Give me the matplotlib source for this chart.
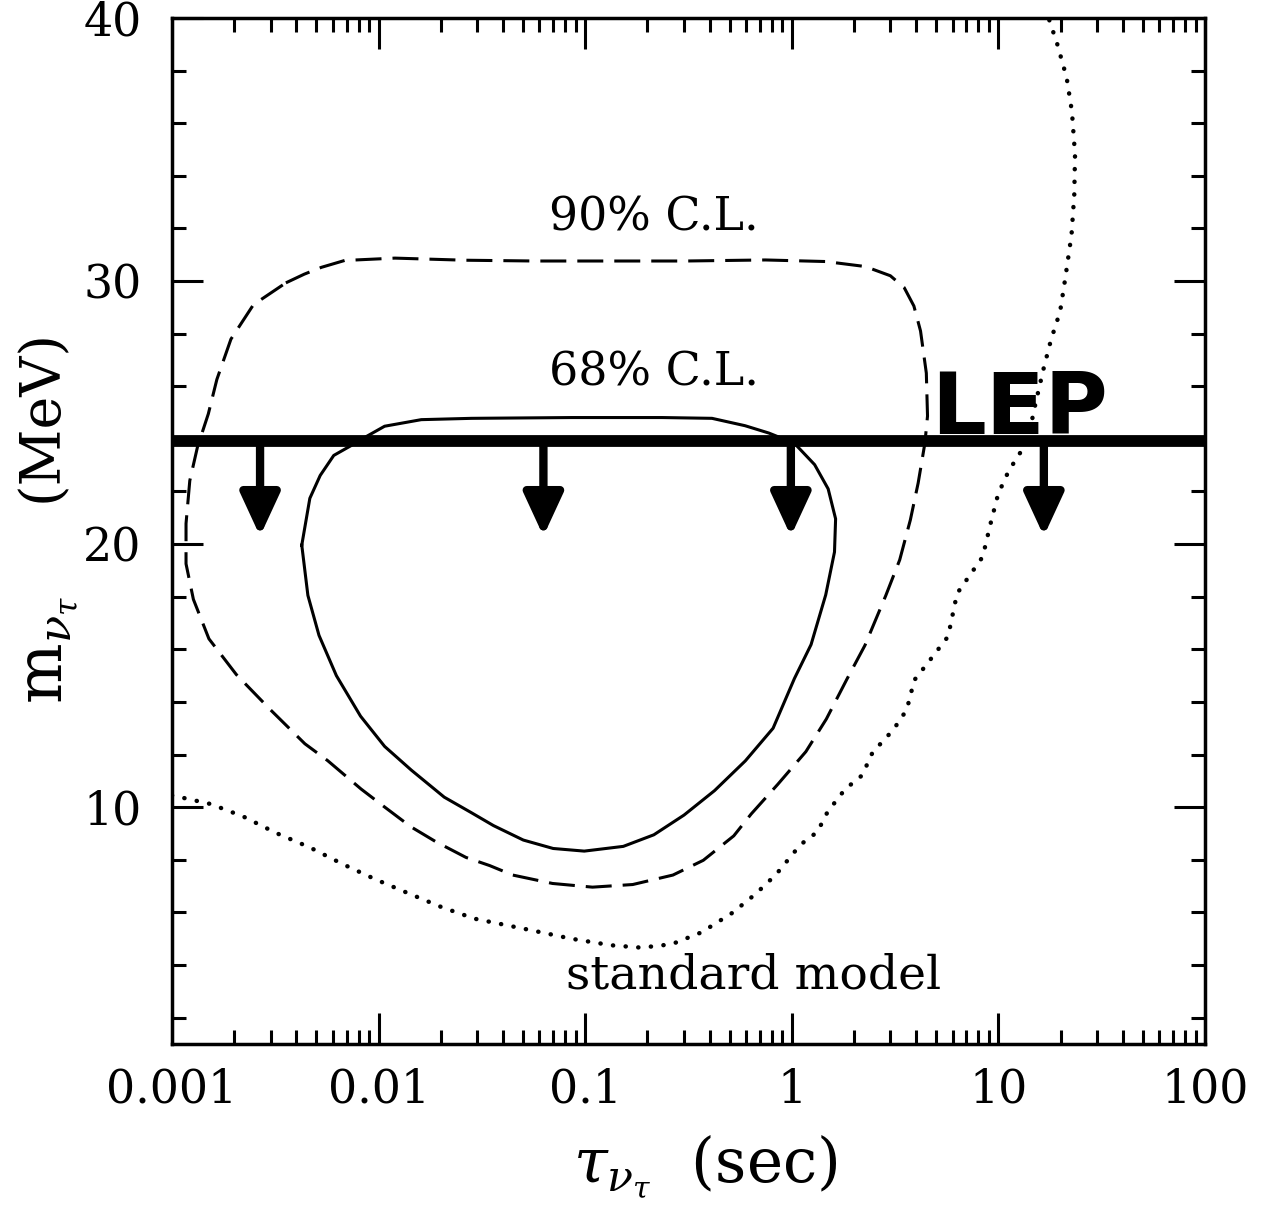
import matplotlib.pyplot as plt
from matplotlib.ticker import FixedLocator, NullFormatter

plt.rcParams['font.family'] = 'DejaVu Serif'
plt.rcParams['mathtext.fontset'] = 'dejavuserif'

# 68% C.L. contour (closed), tau in sec, mass in MeV
tau_68 = [0.00425, 0.00465, 0.00522, 0.00607, 0.00735, 0.00851, 0.0107, 0.0161,
          0.0282, 0.0862, 0.236, 0.411, 0.594, 0.775, 1.03, 1.29, 1.50, 1.63,
          1.61, 1.46, 1.24, 1.03, 0.812, 0.596, 0.423, 0.301, 0.215, 0.153,
          0.0990, 0.0700, 0.0502, 0.0360, 0.0280, 0.0208, 0.0144, 0.0107,
          0.00818, 0.00625, 0.00515, 0.00455]
m_68 = [19.96, 21.74, 22.61, 23.37, 23.74, 24.04, 24.48, 24.73,
        24.78, 24.81, 24.81, 24.78, 24.50, 24.22, 23.83, 23.02, 22.10, 20.96,
        19.70, 18.07, 16.18, 14.89, 13.00, 11.76, 10.63, 9.70, 8.95, 8.51,
        8.33, 8.43, 8.75, 9.30, 9.80, 10.38, 11.41, 12.31,
        13.46, 15.00, 16.53, 18.05]

# 90% C.L. contour (closed)
tau_90 = [0.00356, 0.00437, 0.00529, 0.00685, 0.0120, 0.0262, 0.0571, 0.125,
          0.305, 0.745, 1.46, 2.27, 3.00, 3.50, 3.90, 4.20, 4.48, 4.54, 4.41,
          4.09, 3.75, 3.33, 2.85, 2.26, 1.85, 1.47, 1.17, 0.856, 0.636, 0.524,
          0.373, 0.266, 0.170, 0.1085, 0.0695, 0.0446, 0.0345, 0.0265, 0.0190,
          0.0143, 0.0106, 0.00823, 0.00567, 0.00440, 0.00300, 0.00205, 0.00151,
          0.00127, 0.00117, 0.00117, 0.00122, 0.00133, 0.00150, 0.00165,
          0.00193, 0.00248]
m_90 = [29.93, 30.26, 30.52, 30.78, 30.87, 30.79, 30.76, 30.76,
        30.76, 30.80, 30.74, 30.55, 30.20, 29.75, 29.05, 28.10, 26.50, 24.87,
        23.84, 22.32, 20.92, 19.40, 18.04, 16.15, 14.87, 13.35, 12.11, 10.87,
        9.74, 8.91, 7.98, 7.42, 7.06, 6.96, 7.10, 7.42, 7.78, 8.09, 8.68,
        9.26, 10.03, 10.69, 11.77, 12.41, 13.70, 15.04, 16.40,
        17.90, 19.25, 20.78, 22.41, 23.70, 24.95, 26.26,
        27.79, 29.10]

# standard model boundary
tau_sm = [0.00100, 0.00154, 0.00222, 0.00319, 0.00465, 0.00669, 0.00964, 0.0141,
          0.0202, 0.0292, 0.0550, 0.0858, 0.134, 0.187, 0.262, 0.365, 0.515,
          0.668, 0.839, 1.10, 1.33, 1.49, 1.81, 2.19, 2.46, 3.10, 3.60, 3.92,
          4.54, 5.71, 6.31, 8.40, 9.16, 9.97, 11.2, 12.6, 13.8, 15.2, 16.6,
          18.0, 19.9, 21.1, 22.6, 23.3, 23.5, 22.7, 21.4, 19.3, 17.5]
m_sm = [10.45, 10.12, 9.64, 9.02, 8.47, 7.84, 7.26, 6.71,
        6.20, 5.76, 5.32, 5.00, 4.75, 4.66, 4.79, 5.24, 5.98,
        6.70, 7.44, 8.57, 9.06, 9.82, 10.68, 11.21, 12.08, 12.94, 13.70, 14.83,
        15.47, 16.49, 18.12, 19.52, 20.77, 21.90, 22.77, 23.41, 23.87, 25.42, 26.71,
        27.78, 28.84, 30.13, 31.76, 33.28, 34.80, 36.44, 37.73, 38.99, 40.0]

# LEP upper bound and its arrows
lep_mass = 23.9
arrow_tau = [0.00267, 0.0628, 0.99, 16.6]
arrow_tip = 20.3

xmin, xmax = 0.001, 100
ymin, ymax = 1, 40
x_major = [0.001, 0.01, 0.1, 1, 10, 100]
x_labels = ['0.001', '0.01', '0.1', '1', '10', '100']
y_major = [10, 20, 30, 40]

fig = plt.figure(figsize=(12.68, 12.19), dpi=100)
ax = fig.add_axes([0.1356, 0.1436, 0.8147, 0.8417])

ax.plot(tau_68 + tau_68[:1], m_68 + m_68[:1], color='black', lw=2.2,
        solid_joinstyle='round')
ax.plot(tau_90 + tau_90[:1], m_90 + m_90[:1], color='black', lw=2.2,
        linestyle=(0, (8.5, 3.6)))
ax.plot(tau_sm, m_sm, color='black', lw=3.2, linestyle=(0, (0.05, 2.8)),
        dash_capstyle='round')

ax.plot([xmin, xmax], [lep_mass, lep_mass], color='black', lw=8.5,
        solid_capstyle='butt')
for t in arrow_tau:
    ax.annotate('', xy=(t, arrow_tip), xytext=(t, lep_mass),
                arrowprops=dict(arrowstyle='-|>,head_length=0.65,head_width=0.3',
                                mutation_scale=40, lw=6, color='black',
                                shrinkA=0, shrinkB=0))

ax.text(0.215, 31.93, '90% C.L.', ha='center', va='baseline', fontsize=33)
ax.text(0.215, 26.03, '68% C.L.', ha='center', va='baseline', fontsize=33)
ax.text(0.655, 3.10, 'standard model', ha='center', va='baseline', fontsize=34)
ax.text(12.6, 24.2, 'LEP', ha='center', va='baseline', fontsize=62,
        family='DejaVu Sans', fontweight='heavy')

ax.set_xscale('log')
ax.set_xlim(xmin, xmax)
ax.set_ylim(ymin, ymax)
ax.xaxis.set_major_locator(FixedLocator(x_major))
ax.set_xticklabels(x_labels)
ax.xaxis.set_minor_locator(FixedLocator(
    [k * 10.0 ** e for e in range(-3, 2) for k in range(2, 10)]))
ax.xaxis.set_minor_formatter(NullFormatter())
ax.yaxis.set_major_locator(FixedLocator(y_major))
ax.yaxis.set_minor_locator(FixedLocator(list(range(2, 40, 2))))

ax.tick_params(which='both', direction='in', top=True, right=True,
               width=2.2, labelsize=33)
ax.tick_params(which='major', length=22)
ax.tick_params(which='minor', length=10)
ax.tick_params(axis='x', which='major', pad=17)
ax.tick_params(axis='y', which='major', pad=22)
for s in ax.spines.values():
    s.set_linewidth(2.5)

fig.text(50 / 1268, 1 - 650 / 1219, r'$\mathrm{m}_{\nu_\tau}$', rotation=90,
         ha='center', va='center', fontsize=46)
fig.text(42 / 1268, 1 - 415 / 1219, '(MeV)', rotation=90,
         ha='center', va='center', fontsize=40)
fig.text(705 / 1268, 1 - 1182 / 1219, r'$\tau_{\nu_\tau}$  (sec)',
         ha='center', va='baseline', fontsize=44)

fig.savefig('out.png', dpi=100)
